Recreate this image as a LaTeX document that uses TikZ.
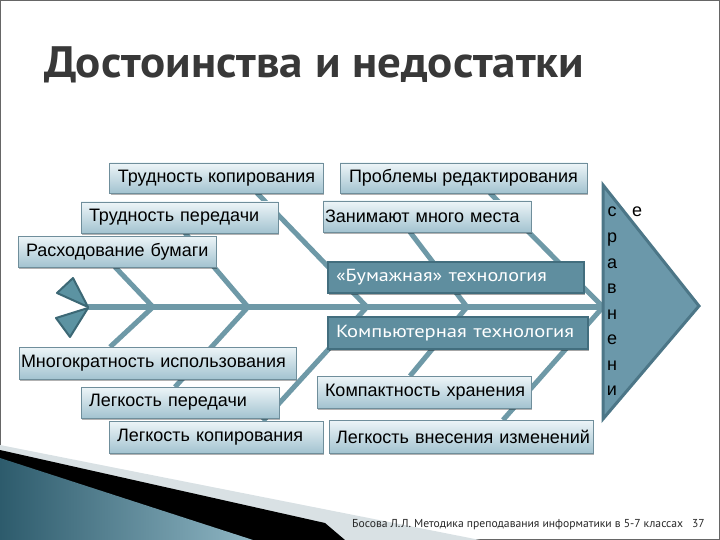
\documentclass[tikz,border=0pt]{standalone}
\usepackage{fontspec}
\setmainfont{Liberation Sans}
\newfontfamily\titlefont{PT Sans}
\usetikzlibrary{shadows,calc}
\definecolor{boxline}{HTML}{6F8E9B}
\definecolor{ltop}{HTML}{EDF5F8}
\definecolor{lbot}{HTML}{A3C3D0}
\definecolor{dfill}{HTML}{5F8E9F}
\definecolor{dline}{HTML}{426E7E}
\definecolor{bone}{HTML}{6E99A7}
\definecolor{arrfill}{HTML}{6B98AA}
\definecolor{arrline}{HTML}{4C7687}
\definecolor{tailfill}{HTML}{5C93A2}
\definecolor{tailline}{HTML}{3C6875}
\definecolor{titlec}{HTML}{383838}
\definecolor{wedgegray}{HTML}{D9E1E4}
\definecolor{tealdark}{HTML}{2D5B6C}
\definecolor{teallight}{HTML}{8FB6C4}
\begin{document}
\begin{tikzpicture}[x=1pt,y=-1pt,
  lbox/.style={draw=boxline, line width=0.8pt, top color=ltop, bottom color=lbot,
    inner xsep=8pt, inner ysep=0pt, align=left, font=\fontsize{18}{20}\selectfont,
    drop shadow={shadow xshift=1pt, shadow yshift=-2pt, opacity=0.3, fill=black}},
  dbox/.style={draw=dline, line width=2.2pt, fill=dfill, text=white,
    inner xsep=8pt, inner ysep=0pt, align=left, font=\titlefont\fontsize{17.5}{20}\selectfont,
    drop shadow={shadow xshift=1pt, shadow yshift=-2pt, opacity=0.35, fill=black}},
  bonel/.style={draw=bone, line width=5pt},
  letter/.style={anchor=base, font=\fontsize{18}{20}\selectfont, inner sep=0pt}
]
\useasboundingbox (0,0) rectangle (720,540);
% frame
\draw[draw=gray!80!black, line width=1pt] (0.5,0.5) rectangle (719.5,539.5);
% bottom-left decoration
\fill[wedgegray] (0,445) -- (480,540) -- (0,540) -- cycle;
\fill[black] (0,450) -- (325,523) -- (345,540) -- (0,540) -- cycle;
\shade[left color=tealdark, right color=teallight] (0,458) -- (253,540) -- (0,540) -- cycle;
% title
\node[anchor=base west, inner sep=0pt, text=titlec, font=\titlefont\bfseries\fontsize{44}{50}\selectfont] (title) at (44,78) {\resizebox{540pt}{\height}{Достоинства и недостатки}};
% spine junctions
\coordinate (tail) at (88,307);
\coordinate (j1) at (153,307);
\coordinate (j2) at (248,307);
\coordinate (j3) at (367,307);
\coordinate (j4) at (467,307);
\coordinate (j5) at (603,307);
% bone ends
\coordinate (u1) at (115,267);
\coordinate (u2) at (185,233);
\coordinate (u3) at (257,193);
\coordinate (u4) at (410,232);
\coordinate (u5) at (490,193);
\coordinate (l1) at (110,347);
\coordinate (l2) at (175,387);
\coordinate (l3) at (263,421);
\coordinate (l4) at (410,376);
\coordinate (l5) at (503,420);
% spine and bones
\draw[draw=bone, line width=6pt] (tail) -- (j5);
\foreach \a/\b in {u1/j1,u2/j2,u3/j3,u4/j4,u5/j5,l1/j1,l2/j2,l3/j3,l4/j4,l5/j5}
  \draw[bonel] (\a) -- (\b);
% tail
\draw[fill=tailfill, draw=tailline, line width=2pt, line join=round] (57,293) -- (73,278) -- (88,307) -- cycle;
\draw[fill=tailfill, draw=tailline, line width=2pt, line join=round] (56,318) -- (88,308) -- (70,337) -- cycle;
% arrow head
\draw[fill=arrfill, draw=arrline, line width=3pt, line join=miter] (603,185) -- (699,306) -- (603,419) -- cycle;
% boxes
\node[lbox, align=center, minimum width=213pt, minimum height=30pt] (b1) at (216.5,178) {\mbox{Трудность копирования}};
\node[lbox, align=center, minimum width=247pt, minimum height=30pt] (b2) at (463.5,178) {\mbox{Проблемы редактирования}};
\node[lbox, text width=181pt, minimum height=31pt] (b3) at (179.5,217.5) {\mbox{Трудность передачи}};
\node[lbox, inner xsep=2pt, text width=204pt, minimum height=31pt] (b4) at (427,216.5) {\mbox{Занимают много места}};
\node[lbox, text width=182pt, minimum height=31pt] (b5) at (117,251.5) {\mbox{Расходование бумаги}};
\node[dbox, text width=240pt, minimum height=31pt] (b6) at (456,277.5) {\resizebox{211pt}{\height}{«Бумажная» технология}};
\node[dbox, text width=244pt, minimum height=32pt] (b7) at (458,333) {\resizebox{238pt}{\height}{Компьютерная технология}};
\node[lbox, inner xsep=2pt, text width=273pt, minimum height=32pt] (b8) at (157.5,363) {\mbox{Многократность использования}};
\node[lbox, text width=182pt, minimum height=31pt] (b9) at (180,402.5) {\mbox{Легкость передачи}};
\node[lbox, text width=198pt, minimum height=32pt] (b10) at (216,437) {\mbox{Легкость копирования}};
\node[lbox, text width=198pt, minimum height=32pt] (b11) at (424,392) {\mbox{Компактность хранения}};
\node[lbox, inner xsep=7pt, text width=250pt, minimum height=33pt] (b12) at (461,436.5) {\mbox{Легкость внесения изменений}};
% vertical word
\node[letter] (s1) at (612,217) {с};
\node[letter] (s2) at (612,242.5) {р};
\node[letter] (s3) at (612,268) {а};
\node[letter] (s4) at (612,293.5) {в};
\node[letter] (s5) at (612,319) {н};
\node[letter] (s6) at (612,344.5) {е};
\node[letter] (s7) at (612,370) {н};
\node[letter] (s8) at (612,395.5) {и};
\node[letter] (s9) at (637,217) {е};
% footer
\node[anchor=base west, inner sep=0pt, text=black!85, font=\titlefont\fontsize{11.5}{13}\selectfont] (foot) at (352,527) {\resizebox{331pt}{\height}{Босова Л.Л. Методика преподавания информатики в 5-7 классах}};
\node[anchor=base west, inner sep=0pt, text=black!85, font=\titlefont\fontsize{11.5}{13}\selectfont] (page) at (692,527) {37};
\end{tikzpicture}
\end{document}
